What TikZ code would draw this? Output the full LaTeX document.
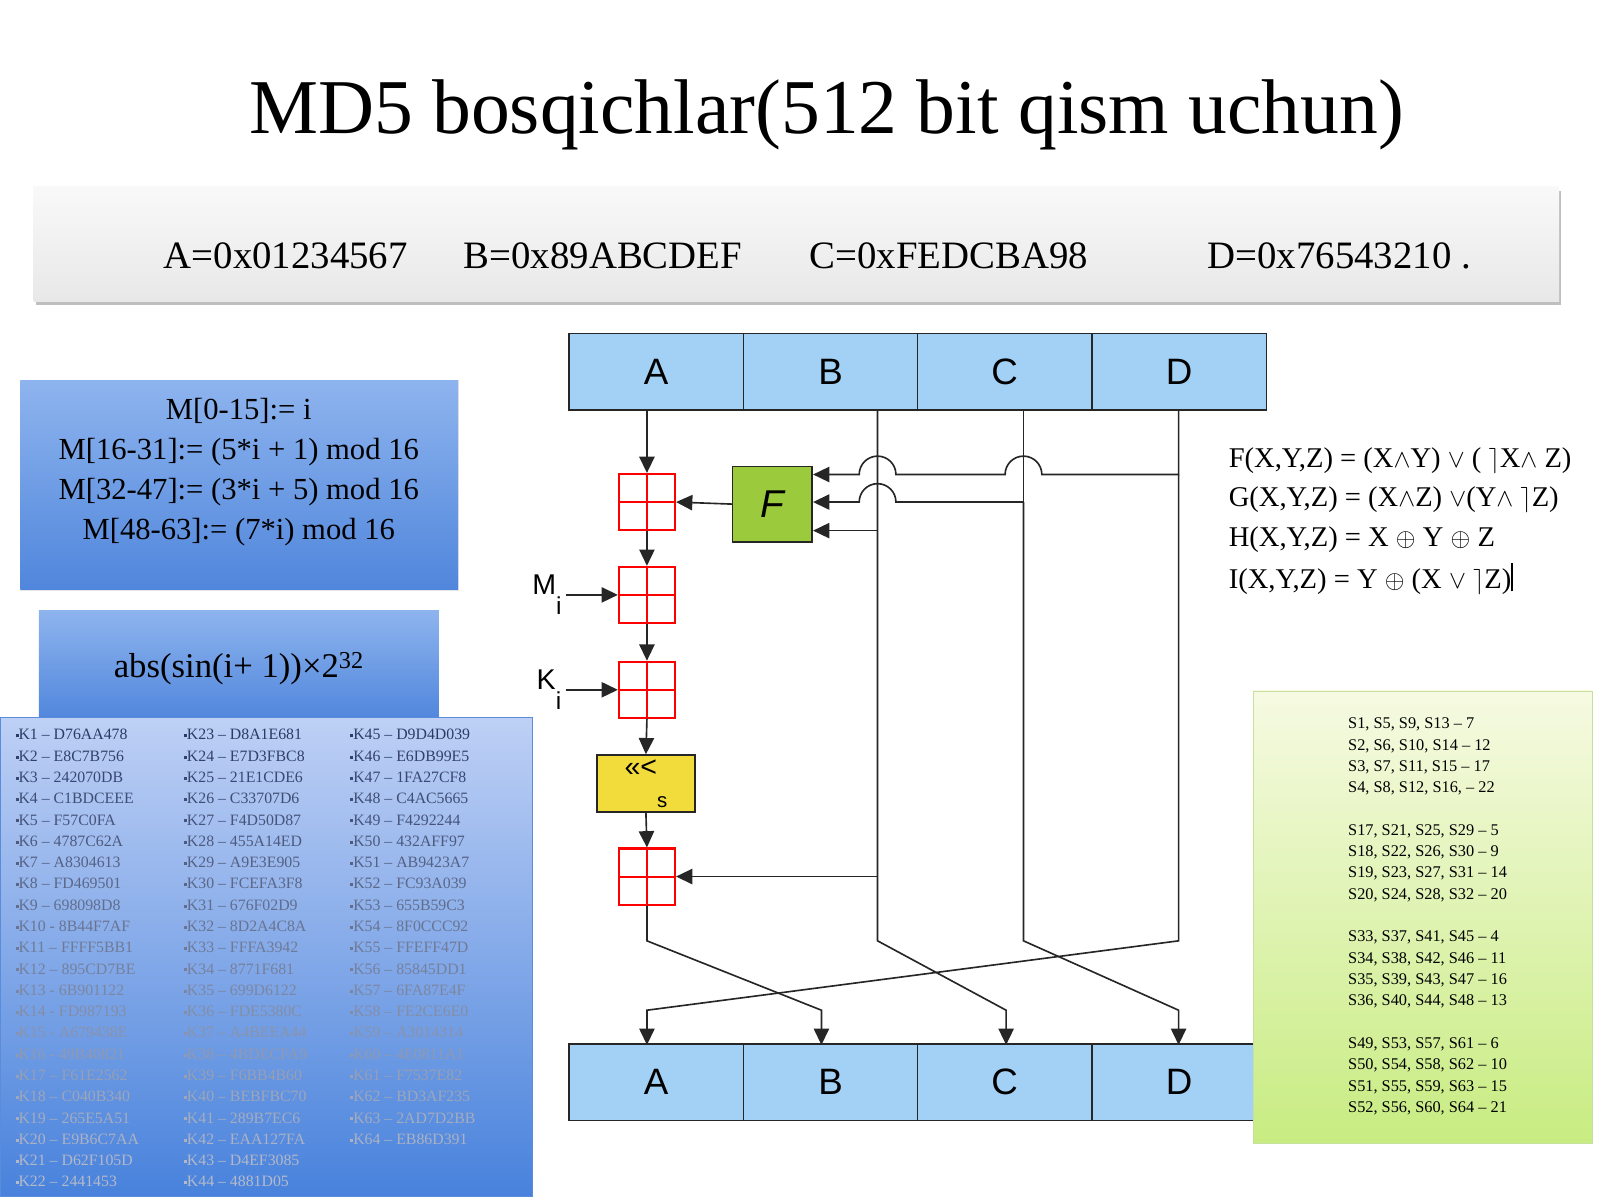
\documentclass[tikz,border=0pt]{standalone}
\usepackage{fontspec}
\setmainfont{Liberation Serif}
\setsansfont{Liberation Sans}
\usetikzlibrary{arrows.meta,shadows}
\definecolor{reg}{HTML}{A3D1F5}
\definecolor{fgreen}{HTML}{9BCB3C}
\definecolor{syel}{HTML}{F2DC3C}
\definecolor{ktxt}{HTML}{2B3B66}
\begin{document}
\begin{tikzpicture}[x=1pt,y=-1pt,
  regcell/.style={draw=black!85,line width=1.6pt,fill=reg,minimum width=171pt,minimum height=75pt,inner sep=0pt,font=\sffamily\fontsize{36}{36}\selectfont},
  adder/.style={draw=red,line width=2pt,fill=white,minimum size=55pt,inner sep=0pt,
    path picture={\draw[red,line width=2pt] (path picture bounding box.north)--(path picture bounding box.south) (path picture bounding box.west)--(path picture bounding box.east);}},
  wire/.style={line width=1.6pt,black!85},
  arr/.style={wire,-{Triangle[length=16pt,width=15pt]}},
  ktext/.style={anchor=west,font=\fontsize{15.5}{16}\selectfont,inner sep=0pt},
  stext/.style={anchor=west,font=\fontsize{16}{16}\selectfont,inner sep=0pt},
  ftext/.style={anchor=west,font=\fontsize{28}{28}\selectfont,inner sep=0pt},
  mtext/.style={font=\fontsize{30}{30}\selectfont,inner sep=0pt}]
\useasboundingbox (0,0) rectangle (1568,1176);
% title
\node[font=\fontsize{76}{76}\selectfont] (title) at (810,113) {MD5 bosqichlar(512 bit qism uchun)};
% init box
\node[draw=none,top color=white!95!gray,bottom color=gray!18,drop shadow={shadow xshift=2pt,shadow yshift=-4pt,opacity=0.5},minimum width=1495pt,minimum height=112pt] (init) at (780.5,239) {};
\node[anchor=west,font=\fontsize{38}{38}\selectfont] (iA) at (157,251) {A=0x01234567};
\node[anchor=west,font=\fontsize{38}{38}\selectfont] (iB) at (451,251) {B=0x89ABCDEF};
\node[anchor=west,font=\fontsize{38}{38}\selectfont] (iC) at (790,251) {C=0xFEDCBA98};
\node[anchor=west,font=\fontsize{38}{38}\selectfont] (iD) at (1180,251) {D=0x76543210 .};
% left boxes
\node[draw=black!10,top color=blue!30!cyan!20!white!80!blue,bottom color=blue!55!cyan!60!white!70!blue,
  shading angle=0,minimum width=429pt,minimum height=205pt,inner sep=0pt] (mbox) at (234.5,475.5) {};
\shade[top color={rgb,255:red,142;green,180;blue,238},bottom color={rgb,255:red,80;green,134;blue,220}] (20,373) rectangle (449,578);
\node[mtext] (m1) at (234,403) {M[0-15]:= i};
\node[mtext] (m2) at (234,443) {M[16-31]:= (5*i + 1) mod 16};
\node[mtext] (m3) at (234,482) {M[32-47]:= (3*i + 5) mod 16};
\node[mtext] (m4) at (234,521) {M[48-63]:= (7*i) mod 16};
\shade[top color={rgb,255:red,142;green,180;blue,238},bottom color={rgb,255:red,80;green,134;blue,220}] (38,598) rectangle (430,705);
\node[font=\fontsize{34}{34}\selectfont] (abs) at (234,655) {abs(sin(i+ 1))×2\textsuperscript{32}};
\shade[top color={rgb,255:red,190;green,208;blue,245},bottom color={rgb,255:red,72;green,130;blue,220},draw={rgb,255:red,90;green,140;blue,220}] (0,703) rectangle (522,1172);
\foreach \c/\x/\list in {
 0/15/{K1 – D76AA478,K2 – E8C7B756,K3 – 242070DB,K4 – C1BDCEEE,K5 – F57C0FA,K6 – 4787C62A,K7 – A8304613,K8 – FD469501,K9 – 698098D8,K10 - 8B44F7AF,K11 – FFFF5BB1,K12 – 895CD7BE,K13 - 6B901122,K14 - FD987193,K15 - A679438E,K16 - 49B40821,K17 – F61E2562,K18 – C040B340,K19 – 265E5A51,K20 – E9B6C7AA,K21 – D62F105D,K22 – 2441453},
 1/180/{K23 – D8A1E681,K24 – E7D3FBC8,K25 – 21E1CDE6,K26 – C33707D6,K27 – F4D50D87,K28 – 455A14ED,K29 – A9E3E905,K30 – FCEFA3F8,K31 – 676F02D9,K32 – 8D2A4C8A,K33 – FFFA3942,K34 – 8771F681,K35 – 699D6122,K36 – FDE5380C,K37 – A4BEEA44,K38 – 4BDECFA9,K39 – F6BB4B60,K40 – BEBFBC70,K41 – 289B7EC6,K42 – EAA127FA,K43 – D4EF3085,K44 – 4881D05},
 2/343/{K45 – D9D4D039,K46 – E6DB99E5,K47 – 1FA27CF8,K48 – C4AC5665,K49 – F4292244,K50 – 432AFF97,K51 – AB9423A7,K52 – FC93A039,K53 – 655B59C3,K54 – 8F0CCC92,K55 – FFEFF47D,K56 – 85845DD1,K57 – 6FA87E4F,K58 – FE2CE6E0,K59 – A3014314,K60 – 4E0811A1,K61 – F7537E82,K62 – BD3AF235,K63 – 2AD7D2BB,K64 – EB86D391}}{
  \foreach \t [count=\i from 0] in \list {
    \pgfmathsetmacro{\fade}{max(35,100-\i*3.2)}
    \node[ktext,text=ktxt!\fade!white] (k\c-\i) at (\x,720+\i*20.86) {\rule[0.35ex]{3pt}{3pt}\t};
  }
}
% registers top
\node[regcell] (tA) at (643,364.5) {A};
\node[regcell] (tB) at (814,364.5) {B};
\node[regcell] (tC) at (984.5,364.5) {C};
\node[regcell] (tD) at (1155.5,364.5) {D};
% adders
\node[adder] (a1) at (634,492) {};
\node[adder] (a2) at (634,583) {};
\node[adder] (a3) at (634,676) {};
\node[adder] (a4) at (634,859) {};
\node[draw=black!85,line width=1.6pt,fill=fgreen,minimum width=78pt,minimum height=74pt,font=\sffamily\itshape\fontsize{38}{38}\selectfont] (F) at (757,494) {F};
\node[draw=black!85,line width=1.6pt,fill=syel,minimum width=96pt,minimum height=56pt,inner sep=0pt,font=\sffamily\fontsize{28}{28}\selectfont] (S) at (633,768) {<<<\raisebox{-2ex}{\fontsize{20}{20}\selectfont s}};
\node[font=\sffamily\fontsize{28}{28}\selectfont,inner sep=0pt] (Mi) at (536,583) {M\raisebox{-1.3ex}{\fontsize{24}{24}\selectfont i}};
\node[font=\sffamily\fontsize{28}{28}\selectfont,inner sep=0pt] (Ki) at (538,676) {K\raisebox{-1.3ex}{\fontsize{24}{24}\selectfont i}};
\coordinate (ta) at (634,402);
\coordinate (tb) at (860,402);
\coordinate (tc) at (1003,402);
\coordinate (td) at (1155,402);
% bottom register
\node[regcell] (bA) at (643,1060.5) {A};
\node[regcell] (bB) at (814,1060.5) {B};
\node[regcell] (bC) at (984.5,1060.5) {C};
\node[regcell] (bD) at (1155.5,1060.5) {D};
% wires
\draw[arr] (ta) -- (a1.north);
\draw[arr] (a1.south) -- (a2.north);
\draw[arr] (a2.south) -- (a3.north);
\draw[arr] (a3.south) -- (S.north);
\draw[arr] (S.south) -- (a4.north);
\draw[arr] (F.west) -- (a1.east);
\draw[arr] (Mi.east) ++(4,0) -- (a2.west);
\draw[arr] (Ki.east) ++(4,0) -- (a3.west);
\draw[arr] (td) -- (1155,465) -- (1021,465) arc (0:-180:18) -- (878,465) arc (0:-180:18) -- (F.east|-0,465);
\draw[arr] (1003,492) -- (878,492) arc (0:-180:18) -- (F.east|-0,492);
\draw[arr] (860,520) -- (F.east|-0,520);
\draw[arr] (860,859) -- (a4.east);
\draw[wire] (tc) -- (1003,492);
\draw[arr] (a4.south) -- (634,922) -- (805,990) -- (805,1024);
\draw[arr] (tb) -- (860,922) -- (986,990) -- (986,1024);
\draw[arr] (1003,492) -- (1003,922) -- (1155,990) -- (1155,1024);
\draw[arr] (1155,465) -- (1155,922) -- (634,990) -- (634,1024);
% formulas
\node[ftext] (f1) at (1204,452) {F(X,Y,Z) = (X$\wedge$Y) $\vee$ ( $\rceil$X$\wedge$ Z)};
\node[ftext] (f2) at (1204,490) {G(X,Y,Z) = (X$\wedge$Z) $\vee$(Y$\wedge$ $\rceil$Z)};
\node[ftext] (f3) at (1204,529) {H(X,Y,Z) = X $\oplus$ Y $\oplus$ Z};
\node[ftext] (f4) at (1204,567) {I(X,Y,Z) = Y $\oplus$ (X $\vee$ $\rceil$Z)\rule[-0.25ex]{1.5pt}{1em}};
% S box
\shade[top color={rgb,255:red,246;green,250;blue,226},bottom color={rgb,255:red,200;green,236;blue,130},draw={rgb,255:red,200;green,225;blue,160}] (1228,677) rectangle (1560,1120);
\foreach \t [count=\i from 0] in {S1\string, S5\string, S9\string, S13 – 7,S2\string, S6\string, S10\string, S14 – 12,S3\string, S7\string, S11\string, S15 – 17,S4\string, S8\string, S12\string, S16\string, – 22}{}
\foreach \i/\t in {0/{S1, S5, S9, S13 – 7},1/{S2, S6, S10, S14 – 12},2/{S3, S7, S11, S15 – 17},3/{S4, S8, S12, S16, – 22},
  5/{S17, S21, S25, S29 – 5},6/{S18, S22, S26, S30 – 9},7/{S19, S23, S27, S31 – 14},8/{S20, S24, S28, S32 – 20},
  10/{S33, S37, S41, S45 – 4},11/{S34, S38, S42, S46 – 11},12/{S35, S39, S43, S47 – 16},13/{S36, S40, S44, S48 – 13},
  15/{S49, S53, S57, S61 – 6},16/{S50, S54, S58, S62 – 10},17/{S51, S55, S59, S63 – 15},18/{S52, S56, S60, S64 – 21}}{
  \node[stext] (s\i) at (1321,710+\i*20.9) {\t};
}
\end{tikzpicture}
\end{document}
